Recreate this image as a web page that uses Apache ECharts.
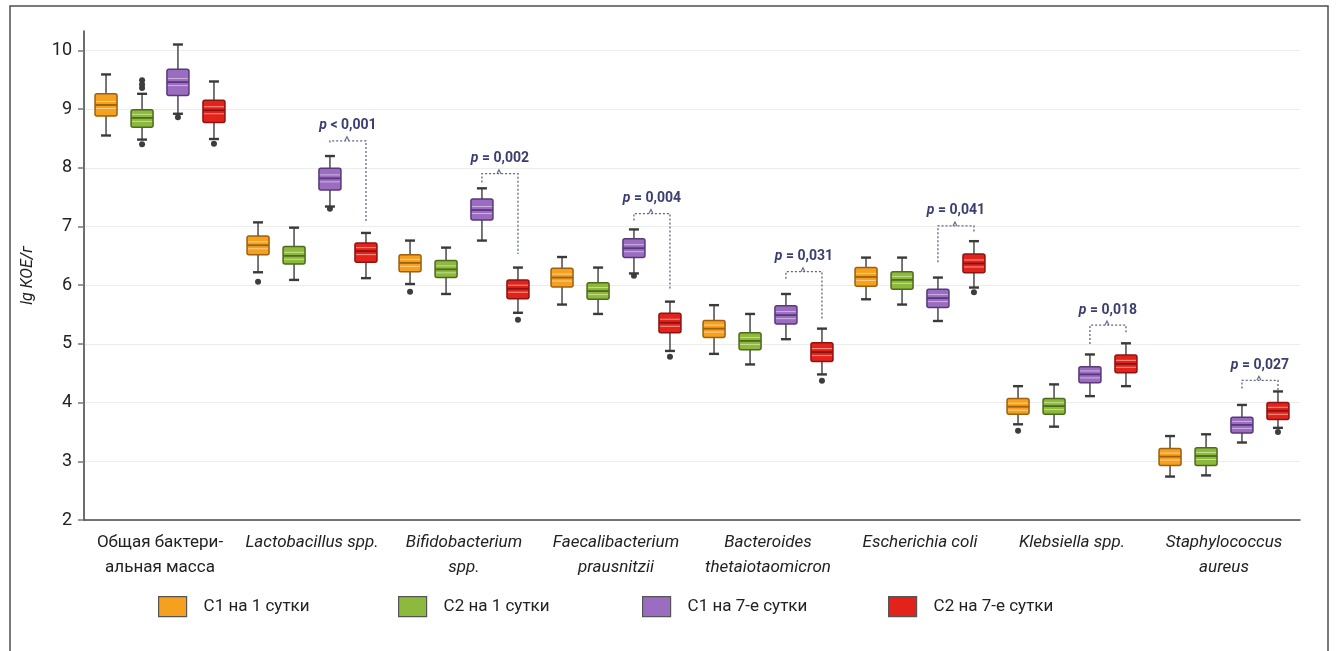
<!DOCTYPE html>
<html><head><meta charset="utf-8">
<script src="https://cdn.jsdelivr.net/npm/echarts@6/dist/echarts.min.js"></script>
<style>html,body{margin:0;padding:0;background:#fff}#c{width:1336px;height:651px}</style>
</head><body><div id="c"></div>
<script>
// ---------- DATA ----------
const categories = ['Общая бактери-\nальная масса', 'Lactobacillus spp.', 'Bifidobacterium\nspp.', 'Faecalibacterium\nprausnitzii', 'Bacteroides\nthetaiotaomicron', 'Escherichia coli', 'Klebsiella spp.', 'Staphylococcus\naureus'];
const italicCategory = [false, true, true, true, true, true, true, true];
const seriesNames = ['С1 на 1 сутки', 'С2 на 1 сутки', 'С1 на 7-е сутки', 'С2 на 7-е сутки'];
const yTicks = [2, 3, 4, 5, 6, 7, 8, 9, 10];
const yName = 'lg КОЕ/г';

// [lower whisker, Q1, median, Q3, upper whisker] per category
const c1Day1 = [
  [8.55, 8.88, 9.07, 9.26, 9.59], [6.22, 6.52, 6.68, 6.84, 7.07], [6.02, 6.23, 6.38, 6.52, 6.76], [5.67, 5.97, 6.13, 6.29, 6.48],
  [4.83, 5.11, 5.26, 5.40, 5.66], [5.76, 5.98, 6.14, 6.30, 6.47], [3.63, 3.80, 3.93, 4.07, 4.28], [2.74, 2.93, 3.08, 3.22, 3.43]];
const c2Day1 = [
  [8.48, 8.69, 8.85, 8.99, 9.26], [6.09, 6.36, 6.50, 6.66, 6.98], [5.85, 6.13, 6.27, 6.42, 6.64], [5.51, 5.76, 5.90, 6.04, 6.30],
  [4.65, 4.90, 5.05, 5.19, 5.51], [5.67, 5.93, 6.09, 6.23, 6.47], [3.59, 3.80, 3.94, 4.07, 4.31], [2.76, 2.93, 3.09, 3.23, 3.46]];
const c1Day7 = [
  [8.92, 9.23, 9.46, 9.68, 10.10], [7.34, 7.62, 7.82, 7.99, 8.20], [6.76, 7.11, 7.28, 7.47, 7.65], [6.20, 6.47, 6.63, 6.79, 6.95],
  [5.08, 5.34, 5.49, 5.65, 5.85], [5.39, 5.62, 5.78, 5.93, 6.13], [4.11, 4.34, 4.48, 4.61, 4.82], [3.32, 3.48, 3.62, 3.75, 3.96]];
const c2Day7 = [
  [8.49, 8.77, 8.98, 9.15, 9.47], [6.12, 6.39, 6.58, 6.72, 6.89], [5.53, 5.77, 5.94, 6.09, 6.30], [4.88, 5.19, 5.36, 5.52, 5.72],
  [4.48, 4.70, 4.86, 5.02, 5.26], [5.96, 6.21, 6.37, 6.53, 6.75], [4.28, 4.51, 4.66, 4.81, 5.01], [3.57, 3.71, 3.86, 4.00, 4.19]];

// outliers: [category index, value]
const c1Day1Outliers = [[1, 6.06], [2, 5.89], [6, 3.52]];
const c2Day1Outliers = [[0, 9.49], [0, 9.42], [0, 9.36], [0, 8.40]];
const c1Day7Outliers = [[0, 8.86], [1, 7.30], [3, 6.16]];
const c2Day7Outliers = [[0, 8.41], [2, 5.41], [3, 4.78], [4, 4.37], [5, 5.88], [7, 3.50]];

// significance brackets (С1 на 7-е vs С2 на 7-е)
const pCategory = [1, 2, 3, 4, 5, 6, 7];
const pBracketLevel = [8.46, 7.90, 7.22, 6.23, 7.01, 5.32, 4.38];
const pLeftEnd = [8.43, 7.75, 7.10, 6.11, 6.39, 5.00, 4.24];
const pRightEnd = [7.07, 6.53, 5.93, 5.42, 6.90, 5.17, 4.20];
const pLabels = ['p < 0,001', 'p = 0,002', 'p = 0,004', 'p = 0,031', 'p = 0,041', 'p = 0,018', 'p = 0,027'];

// ---------- STYLE ----------
const FONT = 'Roboto';
const OFFSETS = [-0.355, -0.118, 0.118, 0.355];
const BOX_W = 22;
const STYLES = [
  { fill: '#f5a11f', stroke: '#9c6010', light: '#fbd08a' },
  { fill: '#8dba3c', stroke: '#4d6a1d', light: '#c4de96' },
  { fill: '#9b6dc0', stroke: '#57397a', light: '#cdb4e2' },
  { fill: '#e3221c', stroke: '#8c1410', light: '#f39a8f' }
];
const WHISK = '#555555';
const CAP = '#3a3a3a';
const P_COLOR = '#3b3f6d';
const BRACKET = '#5f6488';

function boxRender(k) {
  return function (params, api) {
    const cat = api.value(0);
    const band = api.size([1, 0])[0];
    const cx = api.coord([cat, 0])[0] + OFFSETS[k] * band;
    const w = BOX_W;
    const yLo = api.coord([cat, api.value(1)])[1];
    const yQ1 = api.coord([cat, api.value(2)])[1];
    const yMed = api.coord([cat, api.value(3)])[1];
    const yQ3 = api.coord([cat, api.value(4)])[1];
    const yHi = api.coord([cat, api.value(5)])[1];
    const st = STYLES[k];
    return {
      type: 'group', children: [
        { type: 'line', shape: { x1: cx, y1: yHi, x2: cx, y2: yQ3 }, style: { stroke: WHISK, lineWidth: 1.6 } },
        { type: 'line', shape: { x1: cx, y1: yQ1, x2: cx, y2: yLo }, style: { stroke: WHISK, lineWidth: 1.6 } },
        { type: 'line', shape: { x1: cx - 5, y1: yHi, x2: cx + 5, y2: yHi }, style: { stroke: CAP, lineWidth: 2.4 } },
        { type: 'line', shape: { x1: cx - 5, y1: yLo, x2: cx + 5, y2: yLo }, style: { stroke: CAP, lineWidth: 2.4 } },
        { type: 'rect', shape: { x: cx - w / 2, y: yQ3, width: w, height: yQ1 - yQ3, r: 2 }, style: { fill: st.fill, stroke: st.stroke, lineWidth: 1.5 } },
        { type: 'line', shape: { x1: cx - w / 2 + 1, y1: yMed - 3.5, x2: cx + w / 2 - 1, y2: yMed - 3.5 }, style: { stroke: st.light, lineWidth: 1 } },
        { type: 'line', shape: { x1: cx - w / 2 + 1, y1: yMed + 3.5, x2: cx + w / 2 - 1, y2: yMed + 3.5 }, style: { stroke: st.light, lineWidth: 1 } },
        { type: 'line', shape: { x1: cx - w / 2, y1: yMed, x2: cx + w / 2, y2: yMed }, style: { stroke: st.stroke, lineWidth: 1.8 } }
      ]
    };
  };
}

function outlierRender(k) {
  return function (params, api) {
    const cat = api.value(0);
    const band = api.size([1, 0])[0];
    const p = api.coord([cat, api.value(1)]);
    return { type: 'circle', shape: { cx: p[0] + OFFSETS[k] * band, cy: p[1], r: 3 }, style: { fill: '#3d3d3d' } };
  };
}

function bracketRender(params, api) {
  const cat = api.value(0);
  const band = api.size([1, 0])[0];
  const c = api.coord([cat, api.value(1)]);
  const xl = c[0] + OFFSETS[2] * band;
  const xr = c[0] + OFFSETS[3] * band;
  const by = c[1];
  const yl = api.coord([cat, api.value(2)])[1];
  const yr = api.coord([cat, api.value(3)])[1];
  const mid = (xl + xr) / 2;
  const txt = pLabels[params.dataIndex];
  const dash = { stroke: BRACKET, lineWidth: 1.3, lineDash: [2, 2] };
  return {
    type: 'group', children: [
      { type: 'polyline', shape: { points: [[xl, yl], [xl, by], [xr, by], [xr, yr]] }, style: Object.assign({ fill: null }, dash) },
      { type: 'polyline', shape: { points: [[mid - 3, by], [mid - 1, by - 4], [mid + 1, by]] }, style: { stroke: BRACKET, lineWidth: 1.1, fill: null } },
      {
        type: 'text', x: mid, y: by - 15,
        style: {
          text: '{p|' + txt.slice(0, 1) + '}{t|' + txt.slice(1) + '}',
          align: 'center', verticalAlign: 'middle',
          rich: {
            p: { fontFamily: FONT, fontSize: 14, fontWeight: 'bold', fontStyle: 'italic', fill: P_COLOR },
            t: { fontFamily: FONT, fontSize: 14, fontWeight: 'bold', fill: P_COLOR }
          }
        }
      }
    ]
  };
}

const boxData = [c1Day1, c2Day1, c1Day7, c2Day7];
const outData = [c1Day1Outliers, c2Day1Outliers, c1Day7Outliers, c2Day7Outliers];

const series = [];
boxData.forEach((arr, k) => {
  series.push({
    type: 'custom', name: seriesNames[k], renderItem: boxRender(k),
    itemStyle: { color: STYLES[k].fill },
    encode: { x: 0, y: [1, 2, 3, 4, 5] },
    data: arr.map((v, i) => [i].concat(v)), z: 3
  });
});
outData.forEach((arr, k) => {
  series.push({
    type: 'custom', renderItem: outlierRender(k),
    encode: { x: 0, y: 1 }, data: arr, z: 2
  });
});
series.push({
  type: 'custom', renderItem: bracketRender,
  encode: { x: 0, y: [1, 2, 3] },
  data: pCategory.map((c, i) => [c, pBracketLevel[i], pLeftEnd[i], pRightEnd[i]]), z: 4
});

const LEG_X = [158, 398, 642, 888];

const option = {
  animation: false,
  backgroundColor: '#ffffff',
  textStyle: { fontFamily: FONT },
  graphic: [{
    type: 'rect', silent: true, z: -10,
    shape: { x: 10, y: 6, width: 1318, height: 700 },
    style: { fill: 'none', stroke: '#4d4d4d', lineWidth: 1.5 }
  }],
  grid: { left: 84, right: 36, top: 31, bottom: 131, containLabel: false, outerBoundsMode: 'none' },
  legend: seriesNames.map((n, k) => ({
    data: [n], left: LEG_X[k], top: 596, padding: 0, icon: 'rect',
    itemWidth: 28, itemHeight: 20,
    itemStyle: { borderColor: '#555', borderWidth: 1.2 },
    textStyle: { fontFamily: FONT, fontSize: 17, color: '#222', padding: [0, 0, 0, 12] }
  })),
  xAxis: {
    type: 'category', data: categories, boundaryGap: true,
    axisLine: { show: true, lineStyle: { color: '#4a4a4a', width: 1.6 } },
    axisTick: { show: false },
    splitLine: { show: false },
    axisLabel: {
      interval: 0, margin: 10, color: '#222',
      formatter: function (v, i) {
        return (italicCategory[i] ? '{i|' : '{n|') + v + '}';
      },
      rich: {
        n: { fontFamily: FONT, fontSize: 17, lineHeight: 25, color: '#222' },
        i: { fontFamily: FONT, fontSize: 17, lineHeight: 25, fontStyle: 'italic', color: '#222' }
      }
    }
  },
  yAxis: {
    type: 'value', min: 2, max: 10.33, interval: 1,
    name: yName, nameLocation: 'middle', nameGap: 48,
    nameTextStyle: { fontFamily: FONT, fontSize: 16, fontStyle: 'italic', color: '#222' },
    axisLine: { show: true, lineStyle: { color: '#4a4a4a', width: 1.6 } },
    axisTick: { show: true, length: 6, customValues: yTicks, lineStyle: { color: '#777', width: 1.5 } },
    axisLabel: { customValues: yTicks, fontFamily: FONT, fontSize: 18, color: '#222', margin: 12 },
    splitLine: { show: true, lineStyle: { color: '#ececec', width: 1 } }
  },
  series: series
};

const chart = echarts.init(document.getElementById('c'), null, { renderer: 'canvas' });
chart.setOption(option);
</script>
</body></html>
